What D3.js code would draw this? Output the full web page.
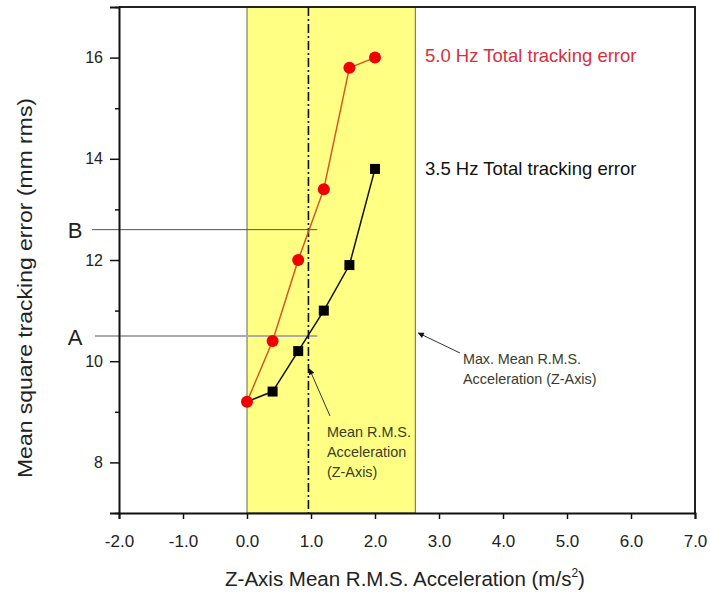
<!DOCTYPE html>
<html>
<head>
<meta charset="utf-8">
<script src="https://cdn.jsdelivr.net/npm/d3@7"></script>
<style>
  html, body { margin: 0; padding: 0; background: #fff; }
  svg { display: block; font-family: "Liberation Sans", Arial, sans-serif; }
</style>
</head>
<body>
<svg id="chart" width="710" height="603"></svg>
<script>
// Acceleration levels (m/s^2) at which tracking error was measured
const accel = [0.0, 0.4, 0.8, 1.2, 1.6, 2.0];
// Total tracking error (mm rms) for each excitation frequency
const err50Hz = [9.2, 10.4, 12.0, 13.4, 15.8, 16.0];
const err35Hz = [9.2, 9.4, 10.2, 11.0, 11.9, 13.8];

// Acceleration band and reference levels
const maxMeanAccel = 2.63;
const meanAccel = 0.96;
const levelA = 10.5;
const levelB = 12.6;
const refLineEnd = 1.1;

const xTicks = [-2, -1, 0, 1, 2, 3, 4, 5, 6, 7];
const yMajorTicks = [8, 10, 12, 14, 16];
const yMinorTicks = [7, 9, 11, 13, 15, 17];

const svg = d3.select("#chart");
const plotLeft = 119, plotRight = 695, plotTop = 7, plotBottom = 513;

const x = d3.scaleLinear().domain([-2, 7]).range([plotLeft, plotRight]);
const y = d3.scaleLinear().domain([7, 17]).range([plotBottom, plotTop]);

// Shaded band from 0 up to the maximum mean acceleration
svg.append("rect")
  .attr("x", x(0)).attr("y", plotTop)
  .attr("width", x(maxMeanAccel) - x(0))
  .attr("height", plotBottom - plotTop)
  .attr("fill", "#ffff84")
  .attr("stroke", "#6b6b3a").attr("stroke-width", 1);

// Frame top and right edges
svg.append("path")
  .attr("d", `M${plotLeft},${plotTop}H${plotRight}V${plotBottom}`)
  .attr("fill", "none").attr("stroke", "#222").attr("stroke-width", 2);

// Reference levels A and B
svg.append("line")
  .attr("x1", 95).attr("x2", x(refLineEnd))
  .attr("y1", y(levelA)).attr("y2", y(levelA))
  .attr("stroke", "#ababab").attr("stroke-width", 2);
svg.append("line")
  .attr("x1", 92).attr("x2", x(refLineEnd))
  .attr("y1", y(levelB)).attr("y2", y(levelB))
  .attr("stroke", "#555").attr("stroke-width", 1);

svg.append("text").attr("x", 75).attr("y", y(levelB) + 8)
  .attr("text-anchor", "middle").attr("font-size", 22).attr("fill", "#222").text("B");
svg.append("text").attr("x", 75).attr("y", y(levelA) + 9)
  .attr("text-anchor", "middle").attr("font-size", 22).attr("fill", "#222").text("A");

// Mean acceleration marker (dash-dot)
svg.append("line")
  .attr("x1", x(meanAccel)).attr("x2", x(meanAccel))
  .attr("y1", plotTop).attr("y2", plotBottom)
  .attr("stroke", "#111").attr("stroke-width", 1.6)
  .attr("stroke-dasharray", "9,3,2,3");

// Series lines
const line = d3.line().x(d => x(d[0])).y(d => y(d[1]));
const pts50 = accel.map((a, i) => [a, err50Hz[i]]);
const pts35 = accel.map((a, i) => [a, err35Hz[i]]);

svg.append("path").datum(pts35).attr("d", line)
  .attr("fill", "none").attr("stroke", "#111").attr("stroke-width", 1.5);
svg.append("path").datum(pts50).attr("d", line)
  .attr("fill", "none").attr("stroke", "#d2581e").attr("stroke-width", 1.5);

svg.selectAll(".sq").data(pts35.slice(1)).enter().append("rect")
  .attr("x", d => x(d[0]) - 5).attr("y", d => y(d[1]) - 5)
  .attr("width", 10).attr("height", 10).attr("fill", "#000");
svg.selectAll(".dot").data(pts50).enter().append("circle")
  .attr("cx", d => x(d[0])).attr("cy", d => y(d[1])).attr("r", 6)
  .attr("fill", "#f00000");

// Axes
const hyphenFmt = d => d3.format(".1f")(d).replace("\u2212", "-");
const xAxis = d3.axisBottom(x).tickValues(xTicks).tickSize(6).tickPadding(16)
  .tickFormat(hyphenFmt);
const gx = svg.append("g").attr("transform", `translate(0,${plotBottom})`).call(xAxis);
gx.select(".domain").attr("stroke", "#111").attr("stroke-width", 2);
gx.selectAll(".tick line").attr("stroke", "#111").attr("stroke-width", 1.5);
gx.selectAll(".tick text").attr("font-size", 17).attr("fill", "#222")
  .attr("font-family", "Liberation Sans, Arial, sans-serif");

const yAxis = d3.axisLeft(y).tickValues(yMajorTicks).tickSize(9).tickPadding(7);
const gy = svg.append("g").attr("transform", `translate(${plotLeft},0)`).call(yAxis);
gy.select(".domain").attr("stroke", "#111").attr("stroke-width", 2);
gy.selectAll(".tick line").attr("stroke", "#111").attr("stroke-width", 1.5);
gy.selectAll(".tick text").attr("font-size", 16).attr("fill", "#222")
  .attr("font-family", "Liberation Sans, Arial, sans-serif");

const yMinor = d3.axisLeft(y).tickValues(yMinorTicks).tickSize(4).tickFormat("");
const gym = svg.append("g").attr("transform", `translate(${plotLeft},0)`).call(yMinor);
gym.select(".domain").remove();
gym.selectAll(".tick line").attr("stroke", "#111").attr("stroke-width", 1.5);

// Axis titles
const xTitle = svg.append("text").attr("x", 405).attr("y", 586)
  .attr("text-anchor", "middle").attr("font-size", 20.5).attr("fill", "#222");
xTitle.append("tspan").text("Z-Axis Mean R.M.S. Acceleration (m/s");
xTitle.append("tspan").attr("font-size", 12).attr("dy", -9).text("2");
xTitle.append("tspan").attr("dy", 9).text(")");

svg.append("text")
  .attr("transform", "translate(32,288) rotate(-90)")
  .attr("text-anchor", "middle").attr("font-size", 19.5).attr("fill", "#222")
  .attr("textLength", 380).attr("lengthAdjust", "spacingAndGlyphs")
  .text("Mean square tracking error (mm rms)");

// Series labels
svg.append("text").attr("x", 425).attr("y", 62)
  .attr("font-size", 18.5).attr("fill", "#d8303f").text("5.0 Hz Total tracking error");
svg.append("text").attr("x", 425).attr("y", 175)
  .attr("font-size", 18.5).attr("fill", "#111").text("3.5 Hz Total tracking error");

// Arrow annotations
svg.append("defs").append("marker")
  .attr("id", "arrow").attr("viewBox", "0 0 10 10")
  .attr("refX", 9).attr("refY", 5)
  .attr("markerWidth", 11).attr("markerHeight", 6)
  .attr("orient", "auto-start-reverse")
  .append("path").attr("d", "M0,0L10,5L0,10z").attr("fill", "#111");

svg.append("line")
  .attr("x1", 460).attr("y1", 353).attr("x2", x(maxMeanAccel) + 3).attr("y2", 333)
  .attr("stroke", "#333").attr("stroke-width", 1).attr("marker-end", "url(#arrow)");
svg.append("line")
  .attr("x1", 330).attr("y1", 416).attr("x2", x(meanAccel) + 1).attr("y2", 369)
  .attr("stroke", "#333").attr("stroke-width", 1).attr("marker-end", "url(#arrow)");

const maxNote = svg.append("text").attr("font-size", 14.4).attr("fill", "#3c3c28");
maxNote.append("tspan").attr("x", 463).attr("y", 364)
  .attr("textLength", 118).attr("lengthAdjust", "spacing").text("Max. Mean R.M.S.");
maxNote.append("tspan").attr("x", 463).attr("y", 384).text("Acceleration (Z-Axis)");

const meanNote = svg.append("text").attr("font-size", 14.4).attr("fill", "#3c3c28");
meanNote.append("tspan").attr("x", 327).attr("y", 437).text("Mean R.M.S.");
meanNote.append("tspan").attr("x", 327).attr("y", 457).text("Acceleration");
meanNote.append("tspan").attr("x", 327).attr("y", 477).text("(Z-Axis)");
</script>
</body>
</html>
